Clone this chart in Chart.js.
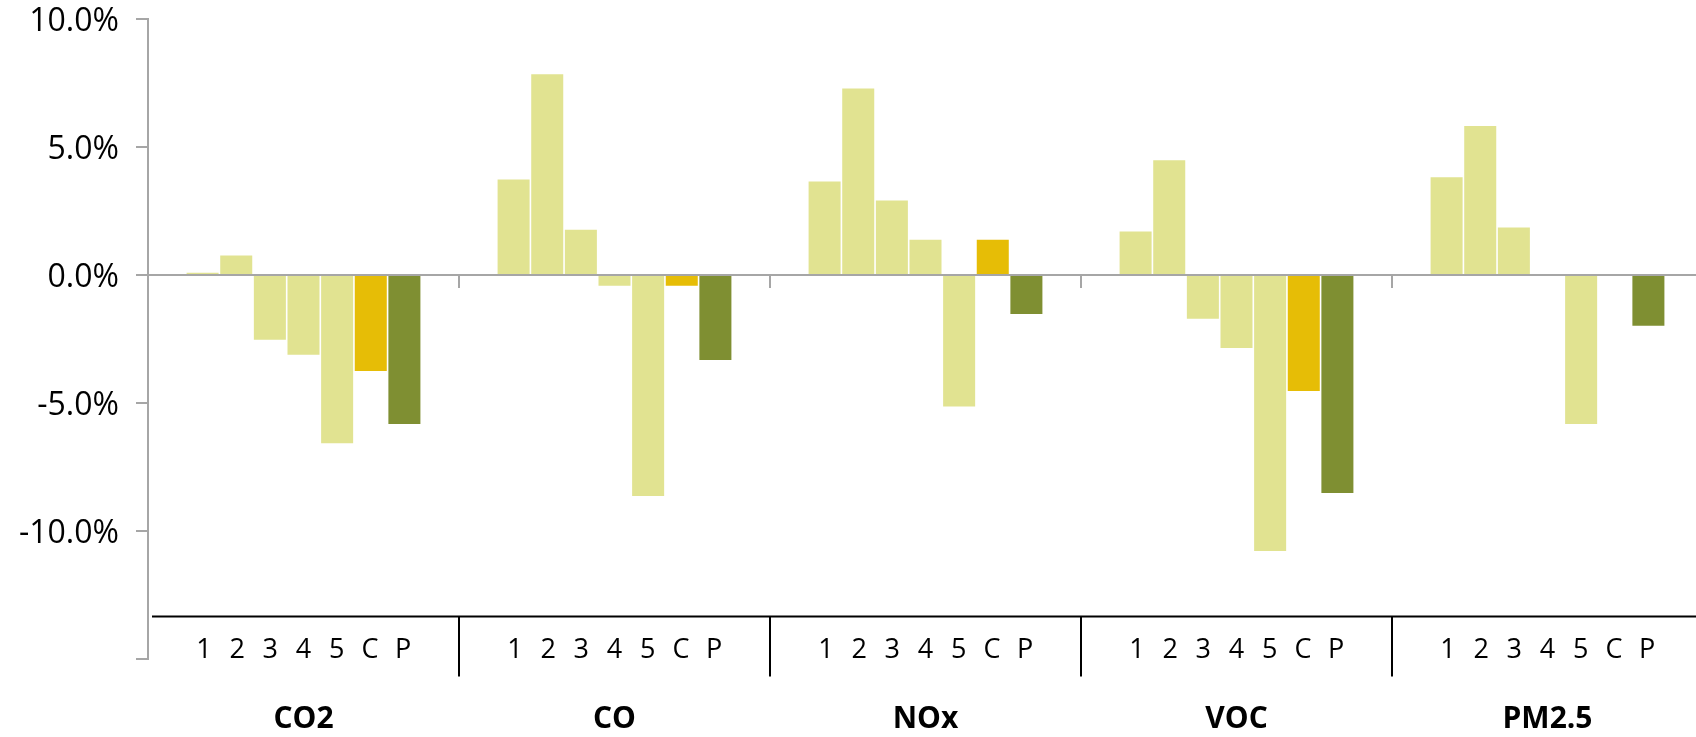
<!DOCTYPE html>
<html>
<head>
<meta charset="utf-8">
<script src="https://cdn.jsdelivr.net/npm/chart.js@4.4.1/dist/chart.umd.min.js"></script>
<style>
  html, body { margin: 0; padding: 0; background: #fff; overflow: hidden; }
  #wrap { width: 1696px; height: 737px; overflow: hidden; }
</style>
</head>
<body>
<!-- canvas is a few px wider than the window: the last group runs past the right edge -->
<div id="wrap"><canvas id="myChart" width="1703" height="737"></canvas></div>
<script>
// pollutant groups and the bars inside each group
const groups = ['CO2', 'CO', 'NOx', 'VOC', 'PM2.5'];
const barKeys = ['1', '2', '3', '4', '5', 'C', 'P'];

// percent change, one array per bar position (CO2, CO, NOx, VOC, PM2.5)
const bar1 = [0.09, 3.73, 3.65, 1.70, 3.82];
const bar2 = [0.76, 7.84, 7.29, 4.48, 5.82];
const bar3 = [-2.53, 1.77, 2.91, -1.71, 1.86];
const bar4 = [-3.12, -0.42, 1.38, -2.85, null];
const bar5 = [-6.57, -8.63, -5.14, -10.78, -5.82];
const barC = [-3.75, -0.42, 1.38, -4.53, null];
const barP = [-5.82, -3.32, -1.52, -8.52, -1.98];

const yMin = -15, yMax = 10, yStep = 5;

const light = '#e1e391';
const gold = '#e6bd06';
const olive = '#7f8f32';
const axisGrey = '#a6a6a6';

const seriesList = [bar1, bar2, bar3, bar4, bar5, barC, barP];
const seriesColors = [light, light, light, light, light, gold, olive];

// draws the two-row category block under the plot (bar keys + group names)
const labelBlock = {
  id: 'labelBlock',
  afterDraw(chart) {
    const ctx = chart.ctx;
    const xs = chart.scales.x;
    const area = chart.chartArea;
    const half = (xs.getPixelForValue(1) - xs.getPixelForValue(0)) / 2;
    const lineY = 616.5;

    ctx.save();
    ctx.strokeStyle = '#000';
    ctx.lineWidth = 2;
    ctx.beginPath();
    ctx.moveTo(area.left + 4, lineY);
    ctx.lineTo(chart.width, lineY);
    for (let i = 1; i < groups.length; i++) {
      const bx = Math.round(xs.getPixelForValue(i) - half);
      ctx.moveTo(bx, lineY);
      ctx.lineTo(bx, lineY + 60);
    }
    ctx.stroke();

    ctx.fillStyle = '#000';
    ctx.textAlign = 'center';
    ctx.textBaseline = 'middle';
    groups.forEach((g, i) => {
      const cx = xs.getPixelForValue(i);
      ctx.font = '27px "Open Sans"';
      barKeys.forEach((k, j) => {
        ctx.fillText(k, cx + (j - 3) * 33.2, 650);
      });
      ctx.font = 'bold 30px "Open Sans"';
      ctx.fillText(g, cx, 719);
    });
    ctx.restore();
  }
};

const ctx = document.getElementById('myChart').getContext('2d');
const myChart = new Chart(ctx, {
  type: 'bar',
  data: {
    labels: groups,
    datasets: seriesList.map((vals, i) => ({
      label: barKeys[i],
      data: vals,
      backgroundColor: seriesColors[i],
      borderWidth: 0,
      categoryPercentage: 0.757,
      barPercentage: 0.952
    }))
  },
  options: {
    responsive: false,
    animation: false,
    layout: { padding: { top: 19, bottom: 78, left: 0, right: 0 } },
    plugins: {
      legend: { display: false },
      tooltip: { enabled: false }
    },
    scales: {
      x: {
        type: 'category',
        axis: 'x',
        position: { y: 0 },
        offset: true,
        z: 1,
        grid: {
          offset: true,
          drawOnChartArea: false,
          drawTicks: true,
          tickLength: 12,
          color: axisGrey,
          lineWidth: 2
        },
        border: { color: axisGrey, width: 2 },
        ticks: { display: false }
      },
      y: {
        min: yMin,
        max: yMax,
        afterFit: s => { s.width = 148; },
        ticks: {
          stepSize: yStep,
          color: '#000',
          padding: 17,
          labelOffset: 3,
          font: { family: 'Open Sans', size: 32, lineHeight: 0.1 },
          callback: v => (v === yMin ? '' : v.toFixed(1) + '%')
        },
        grid: {
          drawOnChartArea: false,
          tickLength: 12,
          color: axisGrey,
          lineWidth: 2
        },
        border: { color: axisGrey, width: 2 }
      }
    }
  },
  plugins: [labelBlock]
});
</script>
</body>
</html>
